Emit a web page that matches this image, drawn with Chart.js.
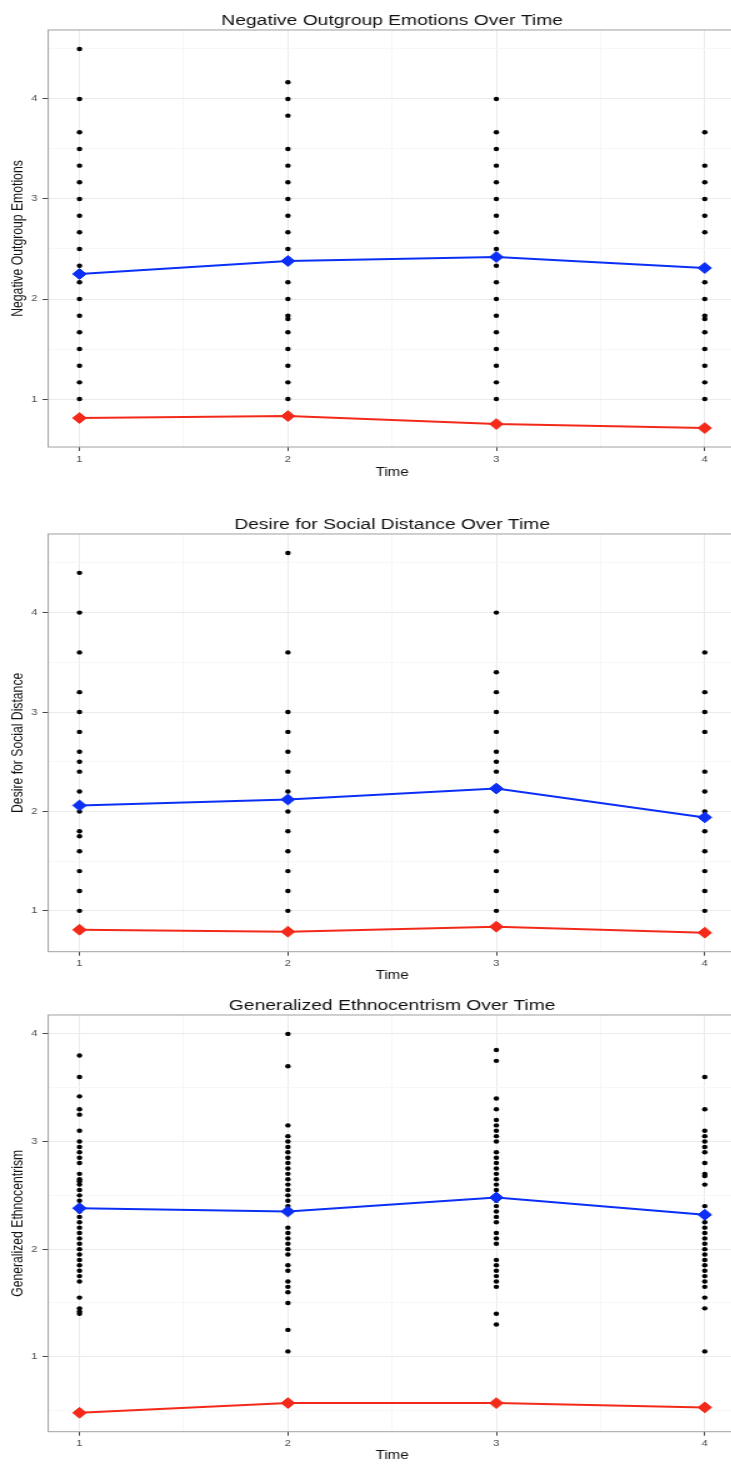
<!DOCTYPE html>
<html><head><meta charset="utf-8">
<script src="https://cdn.jsdelivr.net/npm/chart.js@4.4.1/dist/chart.umd.min.js"></script>
<style>
html,body{margin:0;padding:0;background:#fff;width:731px;height:1465px;overflow:hidden;position:relative}
canvas{position:absolute;left:0;transform-origin:0 0;transform:scaleX(1.25)}
</style></head><body>
<canvas id="c1" width="590" height="490" style="top:0px"></canvas>
<canvas id="c2" width="590" height="500" style="top:490px"></canvas>
<canvas id="c3" width="590" height="475" style="top:990px"></canvas>
<script>
// ---------- data ----------
const timePoints = [1, 2, 3, 4];
const xTickLabels = ['1', '2', '3', '4'];

// Panel 1: Negative Outgroup Emotions
const negEmoTitle = 'Negative Outgroup Emotions Over Time';
const negEmoYLabel = 'Negative Outgroup Emotions';
const negEmoYTicks = [1, 2, 3, 4];
const negEmoT1 = [1, 1.167, 1.333, 1.5, 1.667, 1.833, 2, 2.167, 2.333, 2.5, 2.667, 2.833, 3, 3.167, 3.333, 3.5, 3.667, 4, 4.5];
const negEmoT2 = [1, 1.167, 1.333, 1.5, 1.667, 1.8, 1.833, 2, 2.167, 2.5, 2.667, 2.833, 3, 3.167, 3.333, 3.5, 3.833, 4, 4.167];
const negEmoT3 = [1, 1.167, 1.333, 1.5, 1.667, 1.833, 2, 2.167, 2.333, 2.5, 2.667, 2.833, 3, 3.167, 3.333, 3.5, 3.667, 4];
const negEmoT4 = [1, 1.167, 1.333, 1.5, 1.667, 1.8, 1.833, 2, 2.167, 2.667, 2.833, 3, 3.167, 3.333, 3.667];
const negEmoBlue = [2.25, 2.38, 2.42, 2.31];
const negEmoRed = [0.81, 0.83, 0.75, 0.71];

// Panel 2: Desire for Social Distance
const socDistTitle = 'Desire for Social Distance Over Time';
const socDistYLabel = 'Desire for Social Distance';
const socDistYTicks = [1, 2, 3, 4];
const socDistT1 = [1, 1.2, 1.4, 1.6, 1.75, 1.8, 2, 2.2, 2.4, 2.5, 2.6, 2.8, 3, 3.2, 3.6, 4, 4.4];
const socDistT2 = [1, 1.2, 1.4, 1.6, 1.8, 2, 2.2, 2.4, 2.6, 2.8, 3, 3.6, 4.6];
const socDistT3 = [1, 1.2, 1.4, 1.6, 1.8, 2, 2.4, 2.5, 2.6, 2.8, 3, 3.2, 3.4, 4];
const socDistT4 = [1, 1.2, 1.4, 1.6, 1.8, 2, 2.2, 2.4, 2.8, 3, 3.2, 3.6];
const socDistBlue = [2.06, 2.12, 2.23, 1.94];
const socDistRed = [0.81, 0.79, 0.84, 0.78];

// Panel 3: Generalized Ethnocentrism
const ethnoTitle = 'Generalized Ethnocentrism Over Time';
const ethnoYLabel = 'Generalized Ethnocentrism';
const ethnoYTicks = [1, 2, 3, 4];
const ethnoT1 = [3.8, 3.6, 3.42, 3.3, 3.25, 3.1, 3.0, 2.95, 2.9, 2.85, 2.8, 2.7, 2.65, 2.63, 2.6, 2.55, 2.5, 2.45, 2.4, 2.35, 2.3, 2.25, 2.2, 2.15, 2.1, 2.05, 2.0, 1.95, 1.9, 1.85, 1.8, 1.75, 1.7, 1.55, 1.45, 1.42, 1.4];
const ethnoT2 = [4.0, 3.7, 3.15, 3.05, 3.0, 2.95, 2.9, 2.85, 2.8, 2.75, 2.7, 2.65, 2.6, 2.55, 2.5, 2.45, 2.4, 2.2, 2.15, 2.1, 2.05, 2.0, 1.95, 1.85, 1.8, 1.7, 1.65, 1.6, 1.5, 1.25, 1.05];
const ethnoT3 = [3.85, 3.75, 3.4, 3.3, 3.2, 3.15, 3.1, 3.05, 3.0, 2.9, 2.85, 2.8, 2.75, 2.7, 2.65, 2.6, 2.55, 2.5, 2.45, 2.4, 2.35, 2.3, 2.25, 2.15, 2.1, 2.05, 1.9, 1.85, 1.8, 1.75, 1.7, 1.65, 1.4, 1.3];
const ethnoT4 = [3.6, 3.3, 3.1, 3.05, 3.0, 2.95, 2.9, 2.8, 2.7, 2.68, 2.6, 2.4, 2.3, 2.25, 2.2, 2.15, 2.1, 2.05, 2.0, 1.95, 1.9, 1.85, 1.8, 1.75, 1.7, 1.65, 1.55, 1.45, 1.05];
const ethnoBlue = [2.38, 2.35, 2.48, 2.32];
const ethnoRed = [0.48, 0.57, 0.57, 0.53];

// ---------- styling / layout ----------
const FONT = "'Liberation Sans', Arial, Helvetica, sans-serif";
const BLUE = '#0b2ff5';
const RED = '#f32a1a';
const GRID_MAJOR = '#ebebeb';
const GRID_MINOR = '#f7f7f7';

function ggRange(values) {
  const lo = Math.min(...values), hi = Math.max(...values);
  const pad = (hi - lo) * 0.05;
  return [lo - pad, hi + pad];
}
function withMinor(major, lo, hi) {
  const step = major[1] - major[0];
  const out = [];
  for (let v = major[0] - step; v <= major[major.length - 1] + step + 1e-9; v += step / 2) {
    const r = Math.round(v * 1000) / 1000;
    if (r > lo && r < hi) out.push(r);
  }
  return out;
}
const isIn = (arr, v) => arr.some(a => Math.abs(a - v) < 1e-6);

const panelBorder = {
  id: 'panelBorder',
  afterDraw(chart) {
    const { ctx, chartArea: a } = chart;
    ctx.save();
    ctx.strokeStyle = '#a0a0a0';
    ctx.lineWidth = 1;
    ctx.strokeRect(a.left, a.top, a.right - a.left, a.bottom - a.top);
    ctx.restore();
  }
};

function makePanel(id, p, L) {
  const all = p.obs.flat().concat(p.blue, p.red);
  const [yMin, yMax] = ggRange(all);
  const xMin = 0.85, xMax = 4.15;
  const yGrid = withMinor(p.yTicks, yMin, yMax);
  const xGrid = withMinor(timePoints, xMin, xMax);
  const tickFont = { family: FONT, size: 9, lineHeight: 1.2 };
  const titleFont = { family: FONT, size: 12.2, lineHeight: 1.2 };
  const lineDs = (vals, col) => ({
    data: timePoints.map((t, i) => ({ x: t, y: vals[i] })),
    showLine: true, borderColor: col, backgroundColor: col, borderWidth: 2,
    pointStyle: 'rectRot', pointRadius: 5.4, pointBorderWidth: 1,
    pointBackgroundColor: col, pointBorderColor: col
  });
  new Chart(document.getElementById(id), {
    type: 'scatter',
    data: {
      datasets: [
        lineDs(p.blue, BLUE),
        lineDs(p.red, RED),
        {
          data: p.obs.flatMap((arr, i) => arr.map(v => ({ x: timePoints[i], y: v }))),
          pointRadius: 2.2, pointBorderWidth: 0, backgroundColor: '#000', borderColor: '#000'
        }
      ]
    },
    options: {
      responsive: false, animation: false, events: [],
      layout: { autoPadding: false, padding: { left: 0, right: 1.2, top: 0, bottom: 0 } },
      plugins: {
        legend: { display: false }, tooltip: { enabled: false },
        title: {
          display: true, text: p.title, fullSize: false, color: '#111',
          font: { family: FONT, size: 15.4, weight: 'normal', lineHeight: 1.2 },
          padding: { top: L.titlePad, bottom: 0 }
        }
      },
      scales: {
        x: {
          type: 'linear', min: xMin, max: xMax,
          afterBuildTicks: s => { s.ticks = xGrid.map(v => ({ value: v })); },
          afterFit: s => { s.height = L.h - L.plotBottom; },
          ticks: {
            autoSkip: false, maxRotation: 0, font: tickFont, color: '#4d4d4d', padding: L.xTickPad,
            callback: v => { const i = timePoints.findIndex(t => Math.abs(t - v) < 1e-6); return i >= 0 ? xTickLabels[i] : ''; }
          },
          grid: {
            color: c => isIn(timePoints, c.tick.value) ? GRID_MAJOR : GRID_MINOR,
            tickColor: c => isIn(timePoints, c.tick.value) ? '#444' : 'rgba(0,0,0,0)',
            tickLength: 4, lineWidth: 1
          },
          border: { display: false },
          title: { display: true, text: 'Time', color: '#111', font: titleFont, padding: { top: 0, bottom: L.xTitlePad } }
        },
        y: {
          type: 'linear', min: yMin, max: yMax,
          afterBuildTicks: s => { s.ticks = yGrid.map(v => ({ value: v })); },
          afterFit: s => { s.width = 38.6; },
          ticks: {
            autoSkip: false, font: tickFont, color: '#4d4d4d', padding: 4.2,
            callback: v => isIn(p.yTicks, v) ? String(Math.round(v)) : ''
          },
          grid: {
            color: c => isIn(p.yTicks, c.tick.value) ? GRID_MAJOR : GRID_MINOR,
            tickColor: c => isIn(p.yTicks, c.tick.value) ? '#444' : 'rgba(0,0,0,0)',
            tickLength: 4.5, lineWidth: 1
          },
          border: { display: false },
          title: { display: true, text: p.yLabel, color: '#111', font: titleFont, padding: { top: 7.6, bottom: 0 } }
        }
      }
    },
    plugins: [panelBorder]
  });
}

makePanel('c1',
  { title: negEmoTitle, yLabel: negEmoYLabel, yTicks: negEmoYTicks, obs: [negEmoT1, negEmoT2, negEmoT3, negEmoT4], blue: negEmoBlue, red: negEmoRed },
  { h: 490, titlePad: 11.5, plotBottom: 447, xTickPad: 3.6, xTitlePad: 10.4 });
makePanel('c2',
  { title: socDistTitle, yLabel: socDistYLabel, yTicks: socDistYTicks, obs: [socDistT1, socDistT2, socDistT3, socDistT4], blue: socDistBlue, red: socDistRed },
  { h: 500, titlePad: 25.5, plotBottom: 461.7, xTickPad: 2.2, xTitlePad: 6.7 });
makePanel('c3',
  { title: ethnoTitle, yLabel: ethnoYLabel, yTicks: ethnoYTicks, obs: [ethnoT1, ethnoT2, ethnoT3, ethnoT4], blue: ethnoBlue, red: ethnoRed },
  { h: 475, titlePad: 6.5, plotBottom: 441.7, xTickPad: 2.2, xTitlePad: 1.7 });
</script>
</body></html>
